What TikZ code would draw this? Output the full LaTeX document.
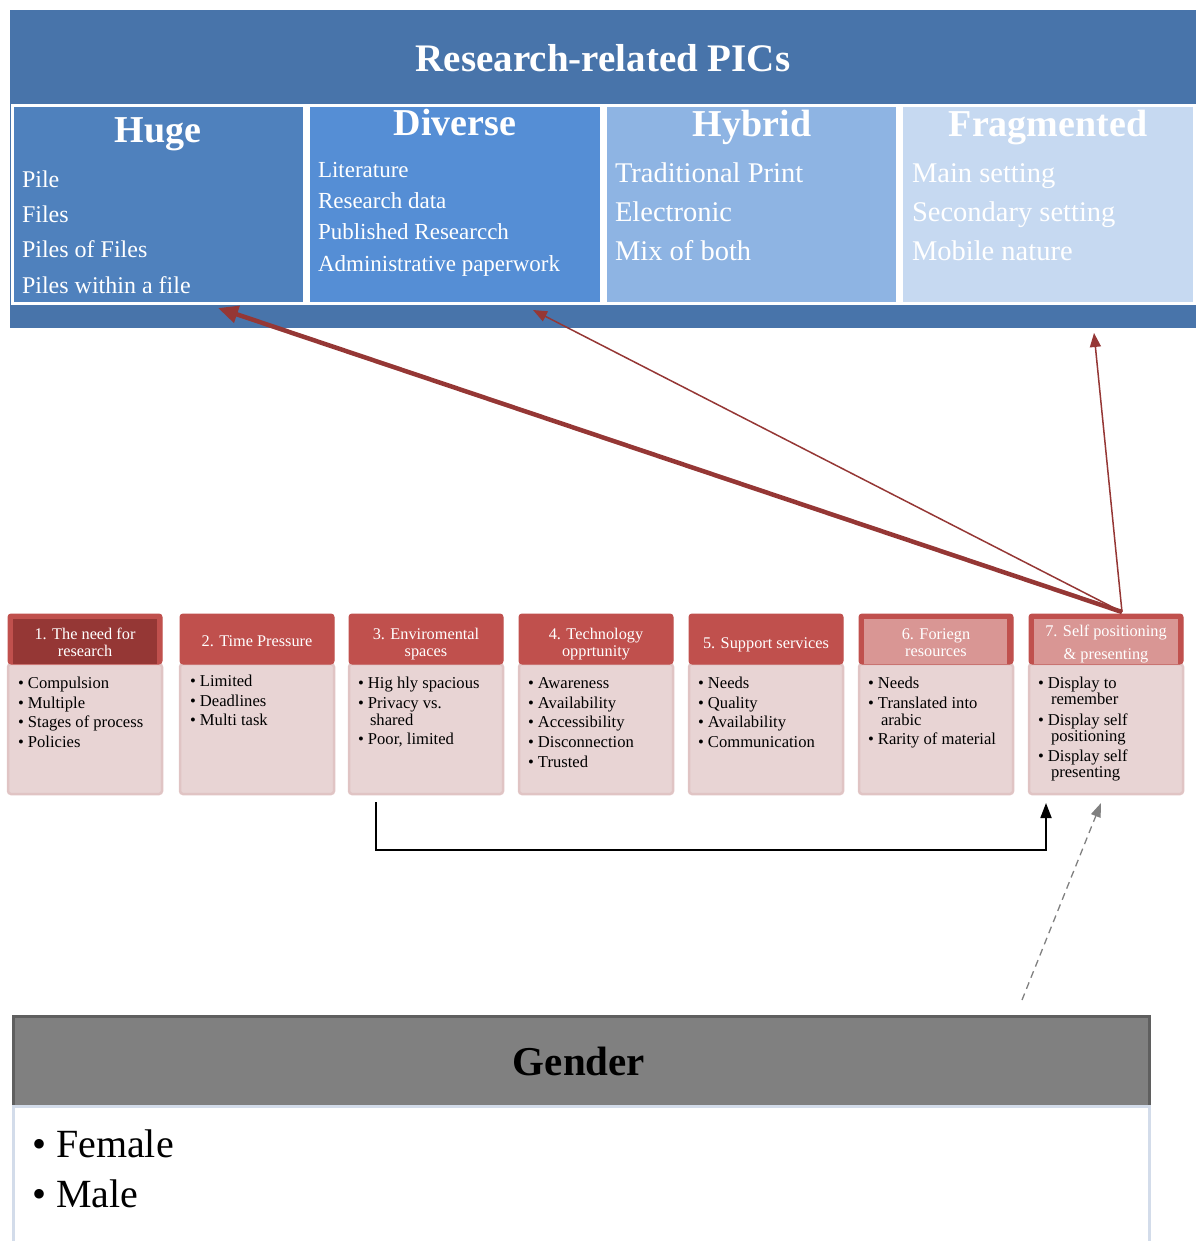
\documentclass[tikz,border=0pt]{standalone}
\usepackage{fontspec}
\setmainfont{Liberation Serif}
\usetikzlibrary{arrows.meta,fit}
\definecolor{topblue}{RGB}{72,116,170}
\definecolor{hugeblue}{RGB}{79,129,189}
\definecolor{divblue}{RGB}{85,142,213}
\definecolor{hybblue}{RGB}{142,180,227}
\definecolor{fragblue}{RGB}{198,217,241}
\definecolor{arrowred}{RGB}{149,55,53}
\definecolor{hdrred}{RGB}{192,80,77}
\definecolor{darkhdr}{RGB}{149,55,53}
\definecolor{pinkhdr}{RGB}{217,150,148}
\definecolor{pinkbody}{RGB}{232,212,212}
\definecolor{pinkedge}{RGB}{224,196,196}
\definecolor{gendergray}{RGB}{128,128,128}
\definecolor{genderedge}{RGB}{95,95,95}
\definecolor{lightedge}{RGB}{211,220,234}
\definecolor{dashgray}{RGB}{128,128,128}
\begin{document}
\begin{tikzpicture}[x=1pt,y=-1pt,
  every node/.style={inner sep=0pt,outer sep=0pt},
  panel/.style={draw=white,line width=3.5pt},
  ttl/.style={anchor=base,text=white,font=\fontsize{38}{44}\selectfont\bfseries},
  itm/.style={anchor=base west,text=white},
  bodybox/.style={fill=pinkbody,draw=pinkedge,line width=2.5pt,rounded corners=3pt},
  hdrbox/.style={fill=hdrred,draw=hdrred,line width=1pt,rounded corners=3pt},
  htxt/.style={anchor=base,text=white,font=\fontsize{16.3}{19}\selectfont},
  btxt/.style={anchor=base west,text=black,font=\fontsize{16.6}{19}\selectfont},
  redarrow/.style={draw=arrowred,-{Triangle[length=14pt,width=11pt]}}
]
\useasboundingbox (0,0) rectangle (1200,1241);
\clip (0,0) rectangle (1200,1241);

% ---------- top block ----------
\node[fill=topblue,fit={(10,10) (1196,103)}] (banner) {};
\node[anchor=base,text=white,font=\fontsize{39}{46}\selectfont\bfseries] (title) at (603,72) {Research-related PICs};
\node[fill=topblue,fit={(10,103) (1196,328)}] (band) {};
\node[panel,fill=hugeblue,fit={(12.5,105.5) (305,303.5)}] (huge) {};
\node[panel,fill=divblue,fit={(308.5,105.5) (601.5,303.5)}] (diverse) {};
\node[panel,fill=hybblue,fit={(605,105.5) (898,303.5)}] (hybrid) {};
\node[panel,fill=fragblue,fit={(901.5,105.5) (1194.5,303.5)}] (frag) {};

\node[ttl] (hugeT) at (158,143) {Huge};
\node[ttl] (divT) at (455,136) {Diverse};
\node[ttl] (hybT) at (752,137) {Hybrid};
\node[ttl] (fragT) at (1048,137) {Fragmented};

\foreach \t [count=\i] in {Pile,Files,Piles of Files,Piles within a file}
  \node[itm,font=\fontsize{24}{28}\selectfont] (hu\i) at (22,153+35*\i) {\t};
\foreach \t [count=\i] in {Literature,Research data,Published Researcch,Administrative paperwork}
  \node[itm,font=\fontsize{23}{27}\selectfont] (di\i) at (318,147+31*\i) {\t};
\foreach \t [count=\i] in {Traditional Print,Electronic,Mix of both}
  \node[itm,font=\fontsize{28.5}{33}\selectfont] (hy\i) at (615,144+39*\i) {\t};
\foreach \t [count=\i] in {Main setting,Secondary setting,Mobile nature}
  \node[itm,font=\fontsize{28.5}{33}\selectfont] (fr\i) at (912,144+39*\i) {\t};

% ---------- middle boxes ----------
\foreach \k/\L in {1/8,2/180,3/349,4/519,5/689,6/859,7/1029} {
  \node[bodybox,fit={(\L,664) (\L+154,794)}] (b\k) {};
  \node[hdrbox,fit={(\L,614) (\L+154,664)}] (h\k) {};
}
\node[fill=darkhdr,fit={(13,619) (157,664)}] (h1in) {};
\node[fill=pinkhdr,fit={(864,619) (1007,664)}] (h6in) {};
\node[fill=pinkhdr,fit={(1034,619) (1178,664)}] (h7in) {};

% header texts
\node[htxt] (t1a) at (85,639) {1. The need for};
\node[htxt] (t1b) at (85,656) {research};
\node[htxt] (t2a) at (257,646) {2. Time Pressure};
\node[htxt] (t3a) at (426,639) {3. Enviromental};
\node[htxt] (t3b) at (426,656) {spaces};
\node[htxt] (t4a) at (596,639) {4. Technology};
\node[htxt] (t4b) at (596,656) {opprtunity};
\node[htxt] (t5a) at (766,648) {5. Support services};
\node[htxt] (t6a) at (936,639) {6. Foriegn};
\node[htxt] (t6b) at (936,656) {resources};
\node[htxt] (t7a) at (1106,636) {7. Self positioning};
\node[htxt] (t7b) at (1106,659) {\& presenting};

% body texts
\node[btxt] (i11) at (18,688) {\textbullet\ Compulsion};
\node[btxt] (i12) at (18,708) {\textbullet\ Multiple};
\node[btxt] (i13) at (18,727) {\textbullet\ Stages of process};
\node[btxt] (i14) at (18,747) {\textbullet\ Policies};

\node[btxt] (i21) at (190,686) {\textbullet\ Limited};
\node[btxt] (i22) at (190,706) {\textbullet\ Deadlines};
\node[btxt] (i23) at (190,725) {\textbullet\ Multi task};

\node[btxt] (i31) at (358,688) {\textbullet\ Hig hly spacious};
\node[btxt] (i32) at (358,708) {\textbullet\ Privacy vs.};
\node[btxt] (i33) at (370,725) {shared};
\node[btxt] (i34) at (358,744) {\textbullet\ Poor, limited};

\node[btxt] (i41) at (528,688) {\textbullet\ Awareness};
\node[btxt] (i42) at (528,708) {\textbullet\ Availability};
\node[btxt] (i43) at (528,727) {\textbullet\ Accessibility};
\node[btxt] (i44) at (528,747) {\textbullet\ Disconnection};
\node[btxt] (i45) at (528,767) {\textbullet\ Trusted};

\node[btxt] (i51) at (698,688) {\textbullet\ Needs};
\node[btxt] (i52) at (698,708) {\textbullet\ Quality};
\node[btxt] (i53) at (698,727) {\textbullet\ Availability};
\node[btxt] (i54) at (698,747) {\textbullet\ Communication};

\node[btxt] (i61) at (868,688) {\textbullet\ Needs};
\node[btxt] (i62) at (868,708) {\textbullet\ Translated into};
\node[btxt] (i63) at (881,725) {arabic};
\node[btxt] (i64) at (868,744) {\textbullet\ Rarity of material};

\node[btxt] (i71) at (1038,688) {\textbullet\ Display to};
\node[btxt] (i72) at (1051,704) {remember};
\node[btxt] (i73) at (1038,725) {\textbullet\ Display self};
\node[btxt] (i74) at (1051,741) {positioning};
\node[btxt] (i75) at (1038,761) {\textbullet\ Display self};
\node[btxt] (i76) at (1051,777) {presenting};

% ---------- gender ----------
\node[fill=gendergray,draw=genderedge,line width=3pt,fit={(13,1016) (1149,1106)}] (ghead) {};
\node[fill=white,draw=lightedge,line width=3pt,fit={(13,1106) (1149,1270)}] (gbody) {};
\node[anchor=base,font=\fontsize{41}{48}\selectfont\bfseries] (gtitle) at (579,1075) {Gender};
\node[anchor=base west,font=\fontsize{40}{46}\selectfont] (g1) at (32,1157) {\textbullet\ Female};
\node[anchor=base west,font=\fontsize{40}{46}\selectfont] (g2) at (32,1207) {\textbullet\ Male};

% ---------- connectors ----------
\coordinate (src) at (1122,612);
\coordinate (hugeend) at (218,308);
\coordinate (divend) at (533,310);
\coordinate (fragend) at (1094,333);
\draw[draw=arrowred,line width=4.5pt,-{Triangle[length=20pt,width=17pt]}] (src) -- (hugeend);
\draw[redarrow,line width=1.5pt] (src) -- (divend);
\draw[redarrow,line width=1.5pt] (src) -- (fragend);

\coordinate (c3) at (376,802);
\coordinate (c7) at (1046,803);
\draw[line width=1.8pt,-{Triangle[length=15pt,width=11pt]}] (c3) -- ++(0,48) -| (c7);

\coordinate (gstart) at (1022,1000);
\coordinate (gend) at (1101,803);
\draw[dashgray,line width=1.3pt,dash pattern=on 7pt off 5pt,-{Triangle[length=14pt,width=10pt]}] (gstart) -- (gend);
\end{tikzpicture}
\end{document}
